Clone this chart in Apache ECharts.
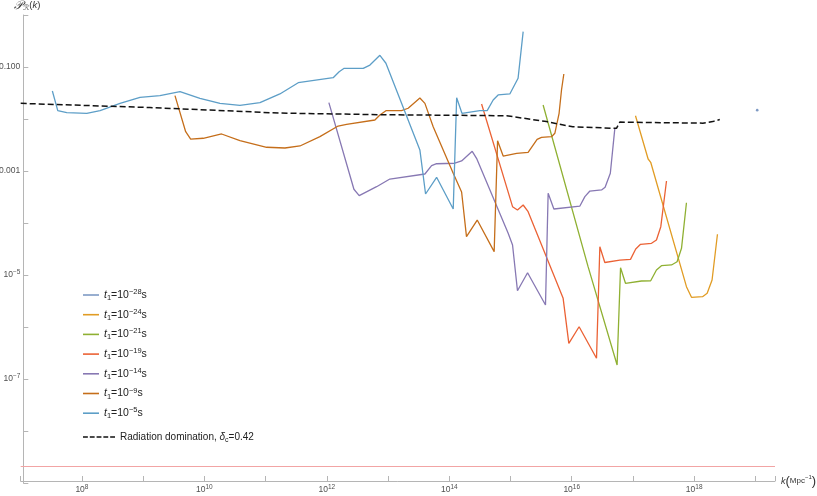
<!DOCTYPE html>
<html><head><meta charset="utf-8">
<script src="https://cdn.jsdelivr.net/npm/echarts@6/dist/echarts.min.js"></script>
<style>html,body{margin:0;padding:0;background:#fff}#c{width:817px;height:496px}</style>
</head><body><div id="c"></div><script>
// ---- data (k in Mpc^-1, P_R(k)) ----
const k28 = [1.07e19];
const p28 = [1.48e-2];

const k24 = [1.10e17, 1.77e17, 1.95e17, 7.48e17, 9.04e17, 1.37e18, 1.63e18, 1.96e18, 2.40e18];
const p24 = [1.156e-2, 1.70e-3, 1.47e-3, 5.96e-6, 3.72e-6, 3.83e-6, 4.45e-6, 8.02e-6, 6.07e-5];

const k21 = [3.41e15, 1.85e16, 5.51e16, 6.27e16, 7.55e16, 1.38e17, 1.95e17, 2.42e17, 2.92e17, 4.26e17, 5.26e17, 6.21e17, 7.48e17];
const p21 = [1.86e-2, 1.445e-5, 1.86e-7, 1.38e-5, 6.92e-6, 7.67e-6, 7.76e-6, 1.247e-5, 1.51e-5, 1.56e-5, 1.80e-5, 3.26e-5, 2.45e-4];

const k19 = [3.37e14, 1.08e15, 1.30e15, 1.61e15, 1.94e15, 7.24e15, 8.97e15, 1.32e16, 2.54e16, 2.88e16, 3.47e16, 6.10e16, 9.12e16, 1.11e17, 1.33e17, 2.01e17, 2.42e17, 2.85e17, 3.53e17];
const p19 = [1.94e-2, 2.06e-4, 1.78e-4, 2.22e-4, 1.65e-4, 3.56e-6, 4.86e-7, 1.01e-6, 2.50e-7, 3.50e-5, 1.74e-5, 1.94e-5, 2.00e-5, 3.16e-5, 3.89e-5, 4.07e-5, 4.71e-5, 8.49e-5, 6.43e-4];

const k14 = [1.08e12, 2.77e12, 3.38e12, 6.50e12, 1.07e13, 4.00e13, 5.14e13, 6.21e13, 1.23e14, 1.59e14, 2.37e14, 2.79e14, 9.16e14, 1.08e15, 1.30e15, 1.90e15, 3.73e15, 4.12e15, 5.11e15, 1.36e16, 1.64e16, 1.98e16, 3.07e16, 3.51e16, 4.27e16, 5.06e16];
const p14 = [2.06e-2, 4.45e-4, 3.35e-4, 4.99e-4, 7.01e-4, 8.75e-4, 1.265e-3, 1.38e-3, 1.41e-3, 1.56e-3, 2.39e-3, 1.75e-3, 6.34e-5, 3.78e-5, 4.99e-6, 1.106e-5, 2.65e-6, 3.72e-4, 1.86e-4, 2.12e-4, 3.21e-4, 4.12e-4, 4.32e-4, 4.86e-4, 9.04e-4, 6.62e-3];

const k9 = [3.31e9, 4.95e9, 5.97e9, 9.59e9, 1.91e10, 3.81e10, 1.04e11, 2.07e11, 3.64e11, 7.71e11, 1.53e12, 2.10e12, 6.10e12, 7.36e12, 9.23e12, 1.66e13, 2.13e13, 3.31e13, 4.00e13, 5.46e13, 1.16e14, 1.59e14, 1.91e14, 2.86e14, 5.41e14, 6.15e14, 7.59e14, 1.26e15, 1.94e15, 2.72e15, 3.21e15, 4.68e15, 5.30e15, 6.22e15, 6.81e15, 7.43e15];
const p9 = [2.81e-2, 5.70e-3, 4.12e-3, 4.26e-3, 5.15e-3, 3.83e-3, 2.86e-3, 2.77e-3, 3.03e-3, 4.57e-3, 7.33e-3, 7.91e-3, 9.57e-3, 1.194e-2, 1.445e-2, 1.445e-2, 1.61e-2, 2.54e-2, 2.00e-2, 7.11e-3, 9.04e-4, 3.94e-4, 5.46e-5, 1.14e-4, 2.81e-5, 3.83e-3, 1.94e-3, 2.19e-3, 2.29e-3, 4.07e-3, 4.45e-3, 4.57e-3, 5.31e-3, 1.288e-2, 3.61e-2, 7.33e-2];

const k5 = [3.29e7, 4.03e7, 5.65e7, 1.20e8, 1.98e8, 4.19e8, 8.89e8, 1.88e9, 4.00e9, 8.47e9, 1.80e10, 3.81e10, 8.09e10, 1.71e11, 3.41e11, 1.27e12, 1.59e12, 1.92e12, 3.93e12, 5.06e12, 7.36e12, 9.23e12, 3.31e13, 4.10e13, 6.21e13, 1.16e14, 1.32e14, 1.61e14, 3.16e14, 4.16e14, 5.21e14, 6.28e14, 9.75e14, 1.33e15, 1.61e15];
const p5 = [3.45e-2, 1.445e-2, 1.321e-2, 1.288e-2, 1.445e-2, 2.00e-2, 2.61e-2, 2.81e-2, 3.35e-2, 2.50e-2, 2.00e-2, 1.83e-2, 2.06e-2, 3.03e-2, 4.99e-2, 6.22e-2, 8.13e-2, 9.44e-2, 9.44e-2, 0.109, 0.168, 0.118, 2.54e-3, 3.61e-4, 7.57e-4, 1.86e-4, 2.57e-2, 1.288e-2, 1.445e-2, 1.445e-2, 2.32e-2, 2.90e-2, 3.03e-2, 6.07e-2, 0.478];

const kRad = [1.0e7, 1.29e9, 1.71e11, 7.36e12, 8.63e14, 3.88e15, 1.04e16, 5.38e16, 6.10e16, 1.38e18, 2.01e18, 2.62e18];
const pRad = [0.0200, 0.0166, 0.0130, 0.0121, 0.01156, 0.00891, 0.00708, 0.00661, 0.00871, 0.00832, 0.00891, 0.00977];

const floorLevel = 2.06e-9;

// axis ranges
const xMin = 1e7, xMax = 2.09e19;
const yMin = 1e-9, yMax = 1;

const seriesNames = ['t1=10^-28 s', 't1=10^-24 s', 't1=10^-21 s', 't1=10^-19 s', 't1=10^-14 s', 't1=10^-9 s', 't1=10^-5 s'];
const seriesExps = ['−28', '−24', '−21', '−19', '−14', '−9', '−5'];
const radName = 'Radiation domination, δc=0.42';

const xLabelExps = [8, 10, 12, 14, 16, 18];
const yLabelExps = [-1, -3, -5, -7];
const yLabelBase = ['0.100', '0.001', '10', '10'];
const yLabelSup = ['', '', '−5', '−7'];

// ---- styling ----
const colors = ['#5E81B5', '#E19C24', '#8FB032', '#EB6235', '#8778B3', '#C56E1A', '#5D9EC7'];
const FONT = '"Liberation Sans", Arial, sans-serif';
const AXIS = '#b5b5b5';
const LBL = '#505050';
const DASH_ICON = 'path://M0,0L5,0L5,1.6L0,1.6Z M7,0L12,0L12,1.6L7,1.6Z M14,0L19,0L19,1.6L14,1.6Z M21,0L26,0L26,1.6L21,1.6Z M28,0L33,0L33,1.6L28,1.6Z';

const ks = [k28, k24, k21, k19, k14, k9, k5];
const ps = [p28, p24, p21, p19, p14, p9, p5];
const pairs = (k, p) => k.map((v, i) => [v, p[i]]);

const series = [];
for (let i = 0; i < 7; i++) {
  if (ks[i].length === 1) {
    series.push({ name: seriesNames[i], type: 'scatter', data: pairs(ks[i], ps[i]), symbolSize: 2.6,
      itemStyle: { color: colors[i] }, silent: true });
  } else {
    series.push({ name: seriesNames[i], type: 'line', data: pairs(ks[i], ps[i]), symbol: 'none',
      lineStyle: { color: colors[i], width: 1.3 }, itemStyle: { color: colors[i] }, silent: true });
  }
}
series.push({ name: radName, type: 'line', data: pairs(kRad, pRad), symbol: 'none', silent: true,
  lineStyle: { color: '#111', width: 1.5, type: [6, 3] }, itemStyle: { color: '#111' },
  markLine: { silent: true, symbol: 'none', label: { show: false },
    lineStyle: { color: '#f2a4a4', width: 1.2, type: 'solid' },
    data: [[{ coord: [xMin, floorLevel] }, { coord: [xMax, floorLevel] }]] } });

const isInt = (v) => { const e = Math.log10(v); return Math.abs(e - Math.round(e)) < 1e-6; };

const option = {
  animation: false,
  backgroundColor: '#fff',
  grid: { left: 20.7, right: 42, top: 15, bottom: 13, outerBoundsMode: 'none' },
  xAxis: {
    type: 'log', logBase: 10, min: xMin, max: xMax, interval: 1, offset: -2,
    axisLine: { lineStyle: { color: AXIS, width: 1 } },
    axisTick: { inside: true, length: 5, lineStyle: { color: AXIS } },
    splitLine: { show: false }, minorTick: { show: false },
    axisLabel: { margin: 3, color: LBL, fontFamily: FONT, fontSize: 8, showMinLabel: true, showMaxLabel: true,
      formatter: (v) => { if (!isInt(v)) return ''; const e = Math.round(Math.log10(v));
        return xLabelExps.indexOf(e) >= 0 ? '{b|10}{s|' + e + '}' : ''; },
      rich: { b: { fontSize: 8.5, fontFamily: FONT, color: LBL, lineHeight: 12 },
              s: { fontSize: 6.5, fontFamily: FONT, color: LBL, verticalAlign: 'top', lineHeight: 7 } } },
    name: '{k|k}{p|(}{n|Mpc}{s|−1}{p|)}', nameLocation: 'end', nameGap: 6,
    nameTextStyle: { rich: {
      k: { fontSize: 9, fontStyle: 'italic', fontFamily: FONT, color: '#333', lineHeight: 14 },
      p: { fontSize: 13, fontFamily: FONT, color: '#333', lineHeight: 14 },
      n: { fontSize: 8, fontFamily: FONT, color: '#333', lineHeight: 14 },
      s: { fontSize: 6, fontFamily: FONT, color: '#333', verticalAlign: 'top', lineHeight: 8 } } }
  },
  yAxis: {
    type: 'log', logBase: 10, min: yMin, max: yMax, interval: 1, offset: -2.6,
    axisLine: { show: true, lineStyle: { color: AXIS, width: 1 } },
    axisTick: { show: true, inside: true, length: 5, lineStyle: { color: AXIS } },
    splitLine: { show: false }, minorTick: { show: false },
    axisLabel: { margin: 3, color: LBL, fontFamily: FONT, fontSize: 8,
      formatter: (v) => { if (!isInt(v)) return ''; const e = Math.round(Math.log10(v));
        const i = yLabelExps.indexOf(e); if (i < 0) return '';
        return yLabelSup[i] ? '{b|' + yLabelBase[i] + '}{s|' + yLabelSup[i] + '}' : '{b|' + yLabelBase[i] + '}'; },
      rich: { b: { fontSize: 8.5, fontFamily: FONT, color: LBL, lineHeight: 12 },
              s: { fontSize: 6.5, fontFamily: FONT, color: LBL, verticalAlign: 'top', lineHeight: 7 } } },
    name: '{P|𝒫}{R|ℛ}{n|(}{k|k}{n|)}', nameLocation: 'end', nameGap: 3,
    nameTextStyle: { align: 'center', padding: [0, 0, 0, 8], rich: {
      P: { fontSize: 12, fontFamily: '"DejaVu Serif", serif', fontStyle: 'italic', color: '#333', lineHeight: 13 },
      R: { fontSize: 7.5, fontFamily: '"DejaVu Sans", sans-serif', color: '#333', verticalAlign: 'bottom', lineHeight: 9 },
      n: { fontSize: 9.5, fontFamily: FONT, color: '#333', lineHeight: 13 },
      k: { fontSize: 9.5, fontStyle: 'italic', fontFamily: FONT, color: '#333', lineHeight: 13 } } }
  },
  legend: [
    { data: seriesNames, orient: 'vertical', left: 83, top: 288, itemGap: 5.7, itemWidth: 16, itemHeight: 1.6,
      icon: 'rect', itemTextGap: 6, selectedMode: false, padding: 0,
      formatter: (name) => { const i = seriesNames.indexOf(name);
        return '{it|t}{sub|1}{n|=10}{sup|' + seriesExps[i] + '}{n|s}'; },
      textStyle: { fontFamily: FONT, fontSize: 10, color: '#222', lineHeight: 14, rich: {
        it: { fontStyle: 'italic', fontSize: 10.5, fontFamily: FONT, color: '#222', lineHeight: 14 },
        n: { fontSize: 10.5, fontFamily: FONT, color: '#222', lineHeight: 14 },
        sub: { fontSize: 7.5, fontFamily: FONT, color: '#222', verticalAlign: 'bottom', lineHeight: 9 },
        sup: { fontSize: 7.5, fontFamily: FONT, color: '#222', verticalAlign: 'top', lineHeight: 8 } } } },
    { data: [{ name: radName, icon: DASH_ICON }], orient: 'vertical', left: 83, top: 430, itemWidth: 32, itemHeight: 1.6,
      itemTextGap: 10, selectedMode: false, padding: 0,
      formatter: () => '{n|Radiation domination, }{it|δ}{sub|c}{n|=0.42}',
      textStyle: { fontFamily: FONT, fontSize: 10, color: '#222', lineHeight: 14, rich: {
        it: { fontStyle: 'italic', fontSize: 10, fontFamily: FONT, color: '#222', lineHeight: 14 },
        n: { fontSize: 10, fontFamily: FONT, color: '#222', lineHeight: 14 },
        sub: { fontSize: 7, fontFamily: FONT, color: '#222', verticalAlign: 'bottom', lineHeight: 9 } } } }
  ],
  series: series
};

const chart = echarts.init(document.getElementById('c'), null, { renderer: 'canvas' });
chart.setOption(option);
</script></body></html>
